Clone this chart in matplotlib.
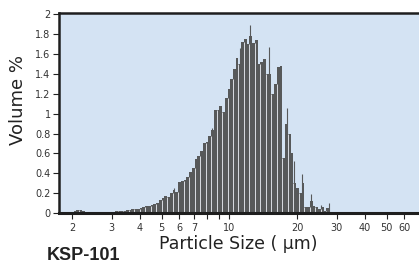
import numpy as np
import matplotlib
matplotlib.use("Agg")
import matplotlib.pyplot as plt

# ---- data ----
size_min, size_max = 1.92, 28.6          # range covered by the bins (um)
volume = [0.005, 0.01, 0.02, 0.03, 0.03, 0.02, 0.015, 0.01, 0.01, 0.01,
          0.01, 0.01, 0.01, 0.01, 0.01, 0.012, 0.015, 0.02, 0.02, 0.025,
          0.025, 0.03, 0.03, 0.04, 0.04, 0.045, 0.05, 0.065, 0.07, 0.07,
          0.08, 0.09, 0.10, 0.13, 0.15, 0.17, 0.16, 0.20, 0.23, 0.21,
          0.31, 0.32, 0.33, 0.36, 0.41, 0.45, 0.54, 0.57, 0.62, 0.70,
          0.71, 0.77, 0.84, 1.04, 1.04, 1.08, 1.02, 1.16, 1.25, 1.35,
          1.45, 1.56, 1.50, 1.72, 1.75, 1.70, 1.78, 1.71, 1.74, 1.50,
          1.52, 1.55, 1.40, 1.40, 1.20, 1.30, 1.47, 1.48, 0.55, 0.90,
          0.80, 0.60, 0.30, 0.25, 0.20, 0.30, 0.06, 0.06, 0.12, 0.07,
          0.06, 0.04, 0.06, 0.02, 0.05, 0.01]
spike_size = [5.68, 8.38, 11.16, 12.41, 14.97, 17.99, 19.30, 21.05, 23.08, 25.57, 27.75]
spike_val = [0.25, 0.86, 1.66, 1.89, 1.67, 1.06, 0.52, 0.39, 0.19, 0.08, 0.10]
xticks = [2, 3, 4, 5, 6, 7, 10, 20, 30, 40, 50, 60]
yticks = [0, 0.2, 0.4, 0.6, 0.8, 1, 1.2, 1.4, 1.6, 1.8, 2]

bar_col = "#57595a"
bg_col = "#d4e3f3"

fig = plt.figure(figsize=(4.19, 2.71), dpi=100)
ax = fig.add_axes([59/419, 58/271, 1 - 59/419, (213 - 13)/271])
ax.set_facecolor(bg_col)

n = len(volume)
edges = np.geomspace(size_min, size_max, n + 1)
h = np.array(volume)
ax.bar(edges[:-1], h, width=np.diff(edges), align="edge", color=bar_col,
       linewidth=0, zorder=2)
# spikes
ax.vlines(spike_size, 0, spike_val, color=bar_col, lw=0.8, zorder=2)
# white separators between bar groups
bnd = edges[2:-1:2]
tops = np.minimum(h[1:-1:2], h[2::2])
ax.vlines(bnd, 0, tops, color="#eef2f8", lw=0.6, zorder=3)

ax.set_xscale("log")
ax.set_xlim(1.75, 69.7)
ax.set_ylim(0, 2.013)

ax.set_xticks(xticks)
ax.set_xticklabels([str(t) for t in xticks])
ax.set_xticks([8, 9], minor=True)
ax.xaxis.set_minor_formatter(matplotlib.ticker.NullFormatter())
ax.set_yticks(yticks)
ax.set_yticklabels(["0", "0.2", "0.4", "0.6", "0.8", "1", "1.2", "1.4", "1.6", "1.8", "2"])

ax.tick_params(axis="both", which="both", direction="out", length=4, width=0.8,
               color="#222222", labelsize=7, labelcolor="#333333", pad=2)
ax.tick_params(axis="x", which="both", pad=3)

ax.spines["right"].set_visible(False)
ax.spines["left"].set_linewidth(1.8)
ax.spines["bottom"].set_linewidth(2.2)
ax.spines["top"].set_linewidth(1.8)
for s in ["left", "bottom", "top"]:
    ax.spines[s].set_color("#1e1e1e")
    ax.spines[s].set_zorder(5)

fig.text(18/419, 1 - 100/271, "Volume %", rotation=90, ha="center", va="center",
         fontsize=13, color="#222222")
fig.text(238/419, 1 - 244/271, "Particle Size ( \u03bcm)", ha="center", va="center",
         fontsize=12.5, color="#222222")
fig.text(83/419, 1 - 255/271, "KSP-101", ha="center", va="center",
         fontsize=13, fontweight="bold", color="#222222",
         family=["Liberation Sans Narrow", "Liberation Sans"])

fig.savefig("out.png", dpi=100)
